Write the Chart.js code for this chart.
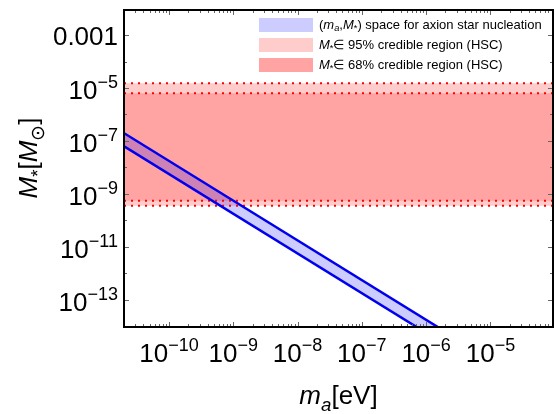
<!DOCTYPE html>
<html lang="en">
<head>
  <meta charset="UTF-8" />
  <title>Axion star nucleation vs HSC</title>
  <script src="https://cdn.jsdelivr.net/npm/chart.js@4.4.1/dist/chart.umd.min.js"></script>
  <style>
    html, body { margin: 0; padding: 0; background: #fff; }
    .chart-box { width: 556px; height: 414px; }
  </style>
</head>
<body>
  <div class="chart-box"><canvas id="axionChart" width="556" height="414"></canvas></div>

  <script>
    // axis ranges
    const xMin = 2.0e-11, xMax = 9.4e-5;
    const yMin = 9.5e-15, yMax = 8.8e-3;

    // nucleation band edges (M_sun), taken at these axion masses (eV)
    const massPoints = [1e-11, 1e-5];
    const bandUpper = [5.6e-7, 5.6e-16];
    const bandLower = [1.8e-7, 1.8e-16];

    // HSC credible regions [lower, upper] (M_sun)
    const hsc95 = [3.6e-10, 1.5e-5];
    const hsc68 = [5.6e-10, 6.3e-6];

    // tick labels as [base, superscript]
    const xTicks = [1e-10, 1e-9, 1e-8, 1e-7, 1e-6, 1e-5];
    const xTickLabels = [['10', '−10'], ['10', '−9'], ['10', '−8'], ['10', '−7'], ['10', '−6'], ['10', '−5']];
    const yTicks = [1e-3, 1e-5, 1e-7, 1e-9, 1e-11, 1e-13];
    const yTickLabels = [['0.001', ''], ['10', '−5'], ['10', '−7'], ['10', '−9'], ['10', '−11'], ['10', '−13']];

    // legend rows: rich text pieces (it = italic, sub = subscript)
    const legendColors = ['#ccccff', '#ffcccc', '#ffa3a3'];
    const legendTexts = [
      [{ t: '(' }, { t: 'm', it: 1 }, { t: 'a', it: 1, sub: 1 }, { t: ',' }, { t: 'M', it: 1 }, { t: '*', sub: 1 }, { t: ') space for axion star nucleation' }],
      [{ t: 'M', it: 1 }, { t: '*', sub: 1 }, { t: '∈ 95% credible region (HSC)' }],
      [{ t: 'M', it: 1 }, { t: '*', sub: 1 }, { t: '∈ 68% credible region (HSC)' }]
    ];
    const xTitle = [{ t: 'm', it: 1 }, { t: 'a', it: 1, sub: 1 }, { t: '[eV]' }];
    const yTitle = [{ t: 'M', it: 1 }, { t: '*', sub: 1 }, { t: '[' }, { t: 'M', it: 1 }, { t: '⊙', sub: 1 }, { t: ']' }];

    const FONT = '"Liberation Sans", Arial, sans-serif';
    const TICK_SIZE = 26, SUP_SIZE = 18;

    function richWidth(ctx, segs, size) {
      let w = 0;
      segs.forEach(s => {
        ctx.font = (s.it ? 'italic ' : '') + (s.sub ? size * 0.72 : size) + 'px ' + FONT;
        w += ctx.measureText(s.t).width;
      });
      return w;
    }

    function drawRich(ctx, x, y, segs, size) {
      segs.forEach(s => {
        ctx.font = (s.it ? 'italic ' : '') + (s.sub ? size * 0.72 : size) + 'px ' + FONT;
        ctx.fillText(s.t, x, s.sub ? y + size * 0.28 : y);
        x += ctx.measureText(s.t).width;
      });
    }

    // power-of-ten label; returns its width, draws if draw=true
    function powerLabel(ctx, x, y, lab, draw) {
      ctx.font = TICK_SIZE + 'px ' + FONT;
      const wb = ctx.measureText(lab[0]).width;
      if (draw) ctx.fillText(lab[0], x, y);
      ctx.font = SUP_SIZE + 'px ' + FONT;
      const ws = lab[1] ? ctx.measureText(lab[1]).width : 0;
      if (draw && lab[1]) ctx.fillText(lab[1], x + wb, y - 11);
      return wb + ws;
    }

    const line = (ys) => massPoints.map((m, i) => ({ x: m, y: ys[i] }));
    const flat = (v) => [{ x: xMin, y: v }, { x: xMax, y: v }];

    const dotted = {
      borderColor: '#ff0000',
      borderWidth: 2,
      borderDash: [2, 5],
      pointRadius: 0,
      clip: 0
    };

    // frame with inward ticks, tick labels, legend and titles
    const framePlugin = {
      id: 'frame',
      afterDraw(chart) {
        const { ctx, chartArea: a, scales: { x, y } } = chart;
        ctx.save();
        ctx.strokeStyle = '#666';
        ctx.lineWidth = 1;
        ctx.beginPath();
        for (let e = -11; e <= -4; e++) {
          for (let k = 1; k <= 9; k++) {
            const v = k * Math.pow(10, e);
            if (v < xMin || v > xMax) continue;
            const px = Math.round(x.getPixelForValue(v)) + 0.5;
            const len = k === 1 ? 5 : 3;
            ctx.moveTo(px, a.bottom); ctx.lineTo(px, a.bottom - len);
            ctx.moveTo(px, a.top); ctx.lineTo(px, a.top + len);
          }
        }
        for (let e = -14; e <= -2; e++) {
          const v = Math.pow(10, e);
          if (v < yMin || v > yMax) continue;
          const py = Math.round(y.getPixelForValue(v)) + 0.5;
          const len = e % 2 ? 5 : 3;
          ctx.moveTo(a.left, py); ctx.lineTo(a.left + len, py);
          ctx.moveTo(a.right, py); ctx.lineTo(a.right - len, py);
        }
        ctx.stroke();

        ctx.strokeStyle = '#000';
        ctx.lineWidth = 2;
        ctx.strokeRect(a.left, a.top, a.right - a.left, a.bottom - a.top);

        // tick labels
        ctx.fillStyle = '#000';
        ctx.textBaseline = 'alphabetic';
        ctx.textAlign = 'left';
        xTicks.forEach((v, i) => {
          const w = powerLabel(ctx, 0, 0, xTickLabels[i], false);
          powerLabel(ctx, x.getPixelForValue(v) - w / 2, a.bottom + 35, xTickLabels[i], true);
        });
        yTicks.forEach((v, i) => {
          const lab = yTickLabels[i];
          const w = powerLabel(ctx, 0, 0, lab, false);
          const py = y.getPixelForValue(v) + (lab[1] ? 11.5 : 9.5);
          powerLabel(ctx, 118 - w, py, lab, true);
        });

        // legend
        ctx.textBaseline = 'middle';
        legendTexts.forEach((segs, i) => {
          const top = 18 + i * 20;
          ctx.fillStyle = legendColors[i];
          ctx.fillRect(259, top, 54, 14);
          ctx.fillStyle = '#000';
          drawRich(ctx, 319, top + 7, segs, 13);
        });

        // axis titles
        ctx.textBaseline = 'alphabetic';
        const cx = (a.left + a.right) / 2;
        drawRich(ctx, cx - richWidth(ctx, xTitle, 26) / 2, 404, xTitle, 26);
        ctx.translate(37, 158);
        ctx.rotate(-Math.PI / 2);
        drawRich(ctx, -richWidth(ctx, yTitle, 26) / 2, 0, yTitle, 26);
        ctx.restore();
      }
    };

    new Chart(document.getElementById('axionChart'), {
      type: 'line',
      data: {
        datasets: [
          {
            data: line(bandUpper), fill: '+1', order: 0,
            borderColor: '#0000ee', backgroundColor: 'rgba(0, 0, 255, 0.2)',
            borderWidth: 2.5, pointRadius: 0, clip: 0
          },
          {
            data: line(bandLower), fill: false, order: 0,
            borderColor: '#0000ee', borderWidth: 2.5, pointRadius: 0, clip: 0
          },
          { ...dotted, data: flat(hsc68[1]), fill: '+1', order: 1, backgroundColor: '#ffa3a3' },
          { ...dotted, data: flat(hsc68[0]), fill: false, order: 1 },
          { ...dotted, data: flat(hsc95[1]), fill: '+1', order: 2, backgroundColor: '#ffcccc' },
          { ...dotted, data: flat(hsc95[0]), fill: false, order: 2 }
        ]
      },
      options: {
        responsive: false,
        animation: false,
        layout: { padding: { left: 0, right: 3, top: 10, bottom: 0 } },
        plugins: {
          legend: { display: false },
          tooltip: { enabled: false },
          filler: { drawTime: 'beforeDatasetsDraw' }
        },
        scales: {
          x: {
            type: 'logarithmic', min: xMin, max: xMax,
            afterBuildTicks: s => { s.ticks = xTicks.map(v => ({ value: v })); },
            afterFit: s => { s.height = 87; s.paddingLeft = 0; s.paddingRight = 0; },
            grid: { display: false, drawTicks: false },
            border: { display: false },
            ticks: { display: false }
          },
          y: {
            type: 'logarithmic', min: yMin, max: yMax,
            afterBuildTicks: s => { s.ticks = yTicks.map(v => ({ value: v })); },
            afterFit: s => { s.width = 124; s.paddingTop = 0; s.paddingBottom = 0; },
            grid: { display: false, drawTicks: false },
            border: { display: false },
            ticks: { display: false }
          }
        }
      },
      plugins: [framePlugin]
    });
  </script>
</body>
</html>
